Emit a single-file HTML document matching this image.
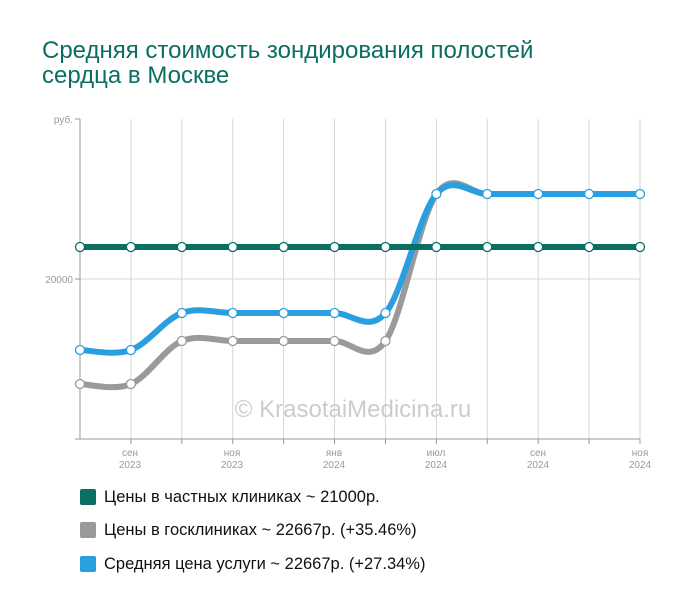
<!DOCTYPE html>
<html><head><meta charset="utf-8"><style>
body{margin:0;background:#fff;width:700px;height:616px;overflow:hidden;font-family:"Liberation Sans",sans-serif}
.t{position:absolute;left:42px;top:38px;font-size:24px;line-height:25px;color:#0b6e63}
.lg{position:absolute;left:80px;font-size:16.5px;color:#111}
.lg span{display:inline-block;width:16px;height:16px;border-radius:2px;vertical-align:-3px;margin-right:8px}
</style></head><body>
<div class="t">Средняя стоимость зондирования полостей<br>сердца в Москве</div>
<svg width="700" height="616" style="position:absolute;left:0;top:0" id="s">
<g stroke="#d5d5d5" stroke-width="1" id="grid"></g>
<line x1="80" y1="279" x2="640" y2="279" stroke="#d5d5d5"/>
<line x1="80" y1="119" x2="80" y2="439" stroke="#999"/>
<line x1="75" y1="119" x2="80" y2="119" stroke="#999"/>
<line x1="75" y1="279" x2="80" y2="279" stroke="#999"/>
<line x1="75" y1="439" x2="640" y2="439" stroke="#999"/>
<g font-size="10" fill="#999" text-anchor="end"><text x="73" y="123">руб.</text><text x="73" y="283">20000</text></g>
<g font-size="10" fill="#999" text-anchor="middle">
<text x="130" y="456">сен</text><text x="130" y="468">2023</text>
<text x="232" y="456">ноя</text><text x="232" y="468">2023</text>
<text x="334" y="456">янв</text><text x="334" y="468">2024</text>
<text x="436" y="456">июл</text><text x="436" y="468">2024</text>
<text x="538" y="456">сен</text><text x="538" y="468">2024</text>
<text x="640" y="456">ноя</text><text x="640" y="468">2024</text>
</g>
<text x="353" y="417" font-size="24" fill="#ccc" text-anchor="middle">© KrasotaiMedicina.ru</text>
<g id="lines"></g>
</svg>
<div class="lg" style="top:488px"><span style="background:#0b6e63"></span>Цены в частных клиниках ~ 21000р.</div>
<div class="lg" style="top:521px"><span style="background:#999"></span>Цены в госклиниках ~ 22667р. (+35.46%)</div>
<div class="lg" style="top:555px"><span style="background:#2a9fe0"></span>Средняя цена услуги ~ 22667р. (+27.34%)</div>
<script>
var X=[];for(var i=0;i<12;i++)X.push(80+i*560/11);
var g=document.getElementById('grid'),h='';
X.forEach(function(x,i){h+='<line x1="'+x+'" y1="119" x2="'+x+'" y2="439"/>';if(i>0)h+='<line x1="'+x+'" y1="439" x2="'+x+'" y2="444" stroke="#999"/>';});
g.innerHTML=h;
function path(Y){var d='M'+X[0]+','+Y[0];for(var i=0;i<11;i++){var p0=i?i-1:i,p3=i<10?i+2:i+1;
var c1x=X[i]+(X[i+1]-X[p0])/6,c1y=Y[i]+(Y[i+1]-Y[p0])/6,c2x=X[i+1]-(X[p3]-X[i])/6,c2y=Y[i+1]-(Y[p3]-Y[i])/6;
d+=' C'+c1x+','+c1y+' '+c2x+','+c2y+' '+X[i+1]+','+Y[i+1];}return d;}
var S=[[[384,384,341,341,341,341,341,194,194,194,194,194],'#9a9a9a',false],
[[350,350,313,313,313,313,313,194,194,194,194,194],'#2a9fe0',true],
[[247,247,247,247,247,247,247,247,247,247,247,247],'#0b6e63',true]];
var o='';S.forEach(function(s){o+='<path d="'+path(s[0])+'" fill="none" stroke="'+s[1]+'" stroke-width="6"/>';});
S.forEach(function(s){s[0].forEach(function(y,i){if(!s[2]&&i>=7)return;o+='<circle cx="'+X[i]+'" cy="'+y+'" r="4.5" fill="#fff" stroke="'+s[1]+'" stroke-width="1.3"/>';});});
document.getElementById('lines').innerHTML=o;
</script>
</body></html>
